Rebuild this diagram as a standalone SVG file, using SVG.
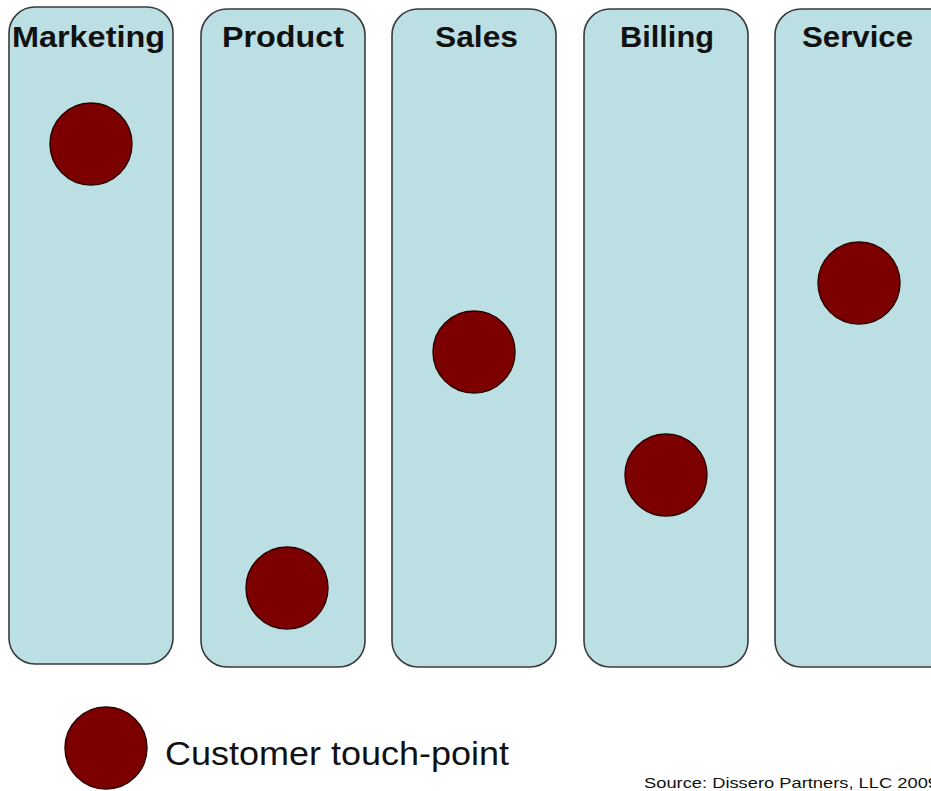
<svg xmlns="http://www.w3.org/2000/svg" width="931" height="791" viewBox="0 0 931 791">
  <style>
    .lane { fill: #bcdfe3; stroke: #3a3a3a; stroke-width: 1.6; }
    .dot { fill: #7d0000; stroke: #2a0000; stroke-width: 1.4; }
    .title { font-family: "Liberation Sans", Arial, sans-serif; font-weight: bold; font-size: 29px; fill: #111; }
    .legend { font-family: "Liberation Sans", Arial, sans-serif; font-size: 33px; fill: #111; }
    .src { font-family: "Liberation Sans", Arial, sans-serif; font-size: 15px; fill: #111; }
  </style>
  <rect width="931" height="791" fill="#ffffff"/>

  <g id="marketing">
    <rect class="lane" x="9" y="7" width="164" height="657" rx="26"/>
    <text class="title" x="12" y="47" textLength="153" lengthAdjust="spacingAndGlyphs">Marketing</text>
    <circle class="dot" cx="91" cy="144" r="41"/>
  </g>

  <g id="product">
    <rect class="lane" x="201" y="9" width="164" height="658" rx="26"/>
    <text class="title" x="222" y="47" textLength="122" lengthAdjust="spacingAndGlyphs">Product</text>
    <circle class="dot" cx="287" cy="588" r="41"/>
  </g>

  <g id="sales">
    <rect class="lane" x="392" y="9" width="164" height="658" rx="26"/>
    <text class="title" x="435" y="47" textLength="83" lengthAdjust="spacingAndGlyphs">Sales</text>
    <circle class="dot" cx="474" cy="352" r="41"/>
  </g>

  <g id="billing">
    <rect class="lane" x="584" y="9" width="164" height="658" rx="26"/>
    <text class="title" x="620" y="47" textLength="94" lengthAdjust="spacingAndGlyphs">Billing</text>
    <circle class="dot" cx="666" cy="475" r="41"/>
  </g>

  <g id="service">
    <rect class="lane" x="775" y="9" width="190" height="658" rx="26"/>
    <text class="title" x="802" y="47" textLength="111" lengthAdjust="spacingAndGlyphs">Service</text>
    <circle class="dot" cx="859" cy="283" r="41"/>
  </g>

  <g id="legend">
    <circle class="dot" cx="106" cy="748" r="41"/>
    <text class="legend" x="165" y="765" textLength="344" lengthAdjust="spacingAndGlyphs">Customer touch-point</text>
  </g>

  <text class="src" x="644" y="788" textLength="294" lengthAdjust="spacingAndGlyphs">Source: Dissero Partners, LLC 2009</text>
</svg>
